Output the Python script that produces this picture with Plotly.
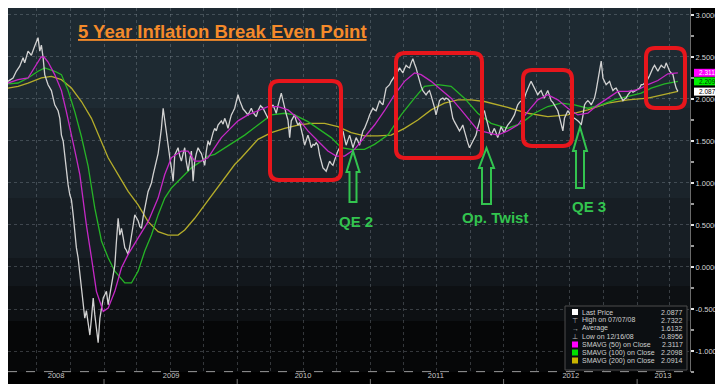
import datetime as _dt
import plotly.graph_objects as go

# ---------------- data ----------------
# time in decimal years
price_t = [2008.281, 2008.319, 2008.343, 2008.369, 2008.394, 2008.406, 2008.431, 2008.456, 2008.481, 2008.506,
           2008.519, 2008.531, 2008.544, 2008.556, 2008.581, 2008.606, 2008.631, 2008.656, 2008.669, 2008.681,
           2008.694, 2008.706, 2008.718, 2008.731, 2008.744, 2008.756, 2008.769, 2008.781, 2008.793, 2008.806,
           2008.819, 2008.831, 2008.844, 2008.856, 2008.868, 2008.881, 2008.894, 2008.906, 2008.919, 2008.931,
           2008.943, 2008.956, 2008.969, 2008.981, 2008.994, 2009.006, 2009.018, 2009.031, 2009.044, 2009.056,
           2009.069, 2009.081, 2009.093, 2009.106, 2009.119, 2009.131, 2009.144, 2009.156, 2009.168, 2009.181,
           2009.194, 2009.206, 2009.219, 2009.231, 2009.243, 2009.256, 2009.269, 2009.281, 2009.294, 2009.306,
           2009.318, 2009.331, 2009.344, 2009.356, 2009.369, 2009.381, 2009.393, 2009.406, 2009.419, 2009.431,
           2009.444, 2009.456, 2009.468, 2009.481, 2009.494, 2009.506, 2009.519, 2009.531, 2009.543, 2009.556,
           2009.569, 2009.581, 2009.594, 2009.606, 2009.618, 2009.631, 2009.644, 2009.656, 2009.669, 2009.681,
           2009.693, 2009.706, 2009.719, 2009.731, 2009.744, 2009.756, 2009.768, 2009.781, 2009.794, 2009.806,
           2009.819, 2009.831, 2009.843, 2009.856, 2009.869, 2009.881, 2009.894, 2009.906, 2009.918, 2009.931,
           2009.944, 2009.956, 2009.969, 2009.981, 2009.993, 2010.006, 2010.019, 2010.031, 2010.044, 2010.056,
           2010.068, 2010.081, 2010.094, 2010.106, 2010.119, 2010.131, 2010.143, 2010.156, 2010.175, 2010.194,
           2010.213, 2010.231, 2010.250, 2010.269, 2010.281, 2010.293, 2010.306, 2010.319, 2010.331, 2010.344,
           2010.356, 2010.368, 2010.381, 2010.394, 2010.406, 2010.419, 2010.431, 2010.443, 2010.456, 2010.469,
           2010.481, 2010.494, 2010.506, 2010.518, 2010.531, 2010.544, 2010.556, 2010.569, 2010.581, 2010.593,
           2010.606, 2010.619, 2010.631, 2010.644, 2010.656, 2010.668, 2010.681, 2010.694, 2010.706, 2010.719,
           2010.731, 2010.743, 2010.756, 2010.769, 2010.781, 2010.794, 2010.806, 2010.818, 2010.831, 2010.844,
           2010.856, 2010.869, 2010.881, 2010.893, 2010.906, 2010.919, 2010.931, 2010.944, 2010.956, 2010.968,
           2010.981, 2010.994, 2011.006, 2011.019, 2011.031, 2011.043, 2011.056, 2011.069, 2011.081, 2011.094,
           2011.106, 2011.118, 2011.131, 2011.144, 2011.156, 2011.169, 2011.181, 2011.193, 2011.206, 2011.219,
           2011.231, 2011.244, 2011.256, 2011.268, 2011.281, 2011.294, 2011.306, 2011.319, 2011.331, 2011.343,
           2011.356, 2011.369, 2011.381, 2011.394, 2011.406, 2011.418, 2011.431, 2011.444, 2011.456, 2011.469,
           2011.481, 2011.493, 2011.506, 2011.519, 2011.531, 2011.544, 2011.556, 2011.568, 2011.581, 2011.594,
           2011.606, 2011.619, 2011.631, 2011.643, 2011.656, 2011.669, 2011.681, 2011.694, 2011.706, 2011.718,
           2011.731, 2011.744, 2011.756, 2011.769, 2011.781, 2011.793, 2011.806, 2011.819, 2011.831, 2011.844,
           2011.856, 2011.868, 2011.881, 2011.894, 2011.906, 2011.919, 2011.931, 2011.943, 2011.956, 2011.969,
           2011.981, 2011.994, 2012.006, 2012.018, 2012.031, 2012.056, 2012.081, 2012.093, 2012.106, 2012.119,
           2012.131, 2012.144, 2012.156, 2012.168, 2012.181, 2012.194, 2012.206, 2012.219, 2012.231, 2012.243,
           2012.256, 2012.269, 2012.281, 2012.294, 2012.306, 2012.318, 2012.331, 2012.344, 2012.356, 2012.369,
           2012.381, 2012.393, 2012.406, 2012.419, 2012.431, 2012.444, 2012.456, 2012.468, 2012.481, 2012.494,
           2012.506, 2012.519, 2012.531, 2012.543, 2012.556, 2012.569, 2012.581, 2012.594, 2012.606, 2012.618,
           2012.631, 2012.644, 2012.656, 2012.669, 2012.681, 2012.693, 2012.706, 2012.719, 2012.731, 2012.744,
           2012.756, 2012.768, 2012.781, 2012.794, 2012.806, 2012.819, 2012.831, 2012.843, 2012.856, 2012.869,
           2012.881, 2012.894, 2012.906, 2012.918, 2012.931, 2012.944, 2012.956, 2012.969, 2012.981, 2012.993,
           2013.006, 2013.019, 2013.031, 2013.044, 2013.056, 2013.068, 2013.081, 2013.094, 2013.106, 2013.119,
           2013.131, 2013.143, 2013.156, 2013.169, 2013.181, 2013.194, 2013.206, 2013.218, 2013.231, 2013.244,
           2013.256, 2013.269, 2013.281, 2013.293, 2013.306]
price_v = [2.21, 2.25, 2.33, 2.39, 2.49, 2.43, 2.57, 2.52, 2.63, 2.73,
           2.57, 2.64, 2.49, 2.29, 2.17, 2.10, 1.93, 1.86, 1.77, 1.57,
           1.50, 1.33, 1.14, 0.98, 0.86, 0.80, 0.62, 0.40, 0.23, 0.11,
           -0.10, -0.29, -0.45, -0.61, -0.52, -0.69, -0.81, -0.61, -0.37, -0.57,
           -0.70, -0.90, -0.61, -0.50, -0.37, -0.33, -0.29, -0.45, -0.33, -0.21,
           -0.10, 0.02, 0.30, 0.58, 0.38, 0.46, 0.35, 0.23, 0.20, 0.15,
           0.25, 0.35, 0.50, 0.62, 0.58, 0.55, 0.48, 0.46, 0.60, 0.70,
           0.82, 0.90, 0.95, 1.00, 1.10, 1.18, 1.25, 1.35, 1.50, 1.65,
           1.89, 1.74, 1.57, 1.42, 1.30, 1.18, 1.02, 1.33, 1.38, 1.42,
           1.32, 1.26, 1.35, 1.42, 1.25, 1.14, 1.28, 1.38, 1.02, 1.26,
           1.35, 1.42, 1.38, 1.35, 1.28, 1.21, 1.38, 1.50, 1.45, 1.54,
           1.60, 1.65, 1.62, 1.69, 1.72, 1.74, 1.70, 1.77, 1.72, 1.65,
           1.74, 1.81, 1.85, 1.89, 1.97, 2.05, 1.98, 1.93, 1.88, 1.86,
           1.84, 1.81, 1.85, 1.89, 1.84, 1.81, 1.79, 1.86, 1.92, 1.89,
           1.82, 1.77, 1.88, 1.93, 1.88, 1.83, 1.92, 2.00, 2.07, 1.98,
           1.89, 1.82, 1.75, 1.54, 1.74, 1.78, 1.81, 1.74, 1.69, 1.72,
           1.65, 1.55, 1.45, 1.52, 1.57, 1.50, 1.42, 1.46, 1.45, 1.48,
           1.45, 1.33, 1.25, 1.18, 1.16, 1.14, 1.20, 1.26, 1.23, 1.21,
           1.27, 1.33, 1.38, 1.42, 1.52, 1.62, 1.53, 1.45, 1.51, 1.57,
           1.50, 1.42, 1.48, 1.54, 1.50, 1.45, 1.54, 1.62, 1.65, 1.69,
           1.75, 1.81, 1.85, 1.89, 1.87, 1.86, 1.92, 1.98, 1.95, 1.93,
           2.03, 2.13, 2.15, 2.17, 2.21, 2.25, 2.27, 2.29, 2.33, 2.37,
           2.34, 2.31, 2.36, 2.40, 2.38, 2.37, 2.43, 2.48, 2.42, 2.37,
           2.29, 2.21, 2.15, 2.10, 2.07, 2.05, 2.08, 2.10, 2.04, 1.98,
           1.90, 1.81, 1.90, 1.98, 2.00, 2.01, 1.99, 2.01, 2.00, 1.98,
           1.88, 1.77, 1.73, 1.69, 1.66, 1.62, 1.65, 1.69, 1.62, 1.54,
           1.48, 1.42, 1.46, 1.50, 1.54, 1.57, 1.66, 1.75, 1.80, 1.84,
           1.86, 1.78, 1.69, 1.62, 1.57, 1.61, 1.65, 1.60, 1.54, 1.60,
           1.67, 1.63, 1.60, 1.65, 1.69, 1.74, 1.81, 1.87, 1.93, 1.96,
           1.98, 1.99, 2.01, 2.07, 2.13, 2.17, 2.21, 2.17, 2.13, 2.09,
           2.05, 2.08, 2.10, 2.05, 2.01, 2.06, 2.10, 2.04, 1.98, 1.96,
           1.93, 1.90, 1.86, 1.78, 1.69, 1.62, 1.77, 1.82, 1.86, 1.83,
           1.80, 1.78, 1.77, 1.75, 1.74, 1.72, 1.69, 1.80, 1.93, 1.96,
           1.98, 1.96, 1.93, 1.97, 2.01, 2.10, 2.21, 2.33, 2.45, 2.25,
           2.21, 2.17, 2.19, 2.21, 2.15, 2.10, 2.12, 2.13, 2.09, 2.05,
           2.01, 1.98, 2.00, 2.01, 2.05, 2.07, 2.10, 2.08, 2.09, 2.10,
           2.12, 2.13, 2.17, 2.17, 2.19, 2.21, 2.24, 2.28, 2.33, 2.37,
           2.40, 2.36, 2.33, 2.37, 2.40, 2.38, 2.37, 2.43, 2.38, 2.33,
           2.31, 2.29, 2.20, 2.13, 2.09]

sma50_t = [2008.281, 2008.356, 2008.431, 2008.491, 2008.529, 2008.551, 2008.581, 2008.631, 2008.681, 2008.718,
           2008.756, 2008.793, 2008.819, 2008.868, 2008.906, 2008.943, 2008.994, 2009.031, 2009.081, 2009.131,
           2009.181, 2009.256, 2009.331, 2009.406, 2009.456, 2009.506, 2009.531, 2009.581, 2009.631, 2009.681,
           2009.731, 2009.781, 2009.831, 2009.881, 2009.931, 2010.006, 2010.081, 2010.156, 2010.231, 2010.306,
           2010.381, 2010.456, 2010.531, 2010.606, 2010.681, 2010.743, 2010.806, 2010.881, 2010.956, 2011.031,
           2011.106, 2011.181, 2011.256, 2011.331, 2011.381, 2011.456, 2011.531, 2011.606, 2011.681, 2011.756,
           2011.806, 2011.881, 2011.956, 2012.031, 2012.106, 2012.181, 2012.256, 2012.331, 2012.406, 2012.481,
           2012.556, 2012.631, 2012.706, 2012.781, 2012.856, 2012.931, 2013.006, 2013.081, 2013.156, 2013.231,
           2013.306]
sma50_v = [2.19, 2.23, 2.25, 2.40, 2.50, 2.50, 2.44, 2.29, 2.10, 1.85,
           1.55, 1.30, 1.10, 0.50, 0.11, -0.29, -0.53, -0.49, -0.29, -0.01,
           0.15, 0.35, 0.54, 0.82, 1.10, 1.30, 1.33, 1.38, 1.38, 1.26,
           1.26, 1.30, 1.42, 1.54, 1.62, 1.74, 1.81, 1.86, 1.91, 1.91,
           1.87, 1.77, 1.62, 1.50, 1.38, 1.32, 1.32, 1.40, 1.54, 1.69,
           1.86, 2.05, 2.21, 2.31, 2.29, 2.21, 2.11, 2.01, 1.87, 1.73,
           1.63, 1.60, 1.57, 1.62, 1.69, 1.85, 1.99, 2.05, 1.99, 1.89,
           1.81, 1.83, 1.93, 2.01, 2.09, 2.09, 2.11, 2.17, 2.22, 2.30,
           2.31]

sma100_t = [2008.281, 2008.356, 2008.431, 2008.506, 2008.556, 2008.631, 2008.681, 2008.731, 2008.781, 2008.831,
            2008.881, 2008.931, 2008.981, 2009.031, 2009.081, 2009.156, 2009.206, 2009.256, 2009.306, 2009.356,
            2009.406, 2009.456, 2009.506, 2009.581, 2009.656, 2009.731, 2009.781, 2009.831, 2009.906, 2009.981,
            2010.056, 2010.156, 2010.256, 2010.356, 2010.431, 2010.531, 2010.631, 2010.706, 2010.781, 2010.856,
            2010.956, 2011.031, 2011.131, 2011.231, 2011.331, 2011.406, 2011.506, 2011.606, 2011.706, 2011.806,
            2011.906, 2012.031, 2012.131, 2012.231, 2012.331, 2012.431, 2012.531, 2012.631, 2012.731, 2012.831,
            2012.931, 2013.031, 2013.106, 2013.206, 2013.306]
sma100_v = [2.18, 2.19, 2.25, 2.33, 2.37, 2.33, 2.29, 2.10, 1.85, 1.55,
            1.20, 0.70, 0.31, 0.11, -0.05, -0.19, -0.19, -0.05, 0.19, 0.38,
            0.62, 0.82, 0.94, 1.06, 1.18, 1.26, 1.32, 1.34, 1.42, 1.50,
            1.57, 1.69, 1.81, 1.83, 1.81, 1.73, 1.62, 1.54, 1.42, 1.40,
            1.40, 1.46, 1.57, 1.81, 2.01, 2.15, 2.17, 2.15, 2.01, 1.83,
            1.71, 1.65, 1.71, 1.83, 1.91, 1.95, 1.93, 1.89, 1.93, 1.99,
            2.03, 2.07, 2.13, 2.18, 2.21]

sma200_t = [2008.281, 2008.356, 2008.431, 2008.531, 2008.606, 2008.681, 2008.756, 2008.831, 2008.906, 2008.981,
            2009.031, 2009.106, 2009.181, 2009.256, 2009.331, 2009.406, 2009.481, 2009.556, 2009.606, 2009.681,
            2009.756, 2009.831, 2009.906, 2009.981, 2010.031, 2010.156, 2010.256, 2010.356, 2010.456, 2010.556,
            2010.656, 2010.756, 2010.856, 2010.956, 2011.056, 2011.156, 2011.256, 2011.356, 2011.456, 2011.556,
            2011.656, 2011.756, 2011.856, 2011.956, 2012.031, 2012.181, 2012.331, 2012.481, 2012.631, 2012.781,
            2012.931, 2013.081, 2013.194, 2013.306]
sma200_v = [2.13, 2.15, 2.19, 2.25, 2.27, 2.23, 2.13, 1.97, 1.77, 1.50,
            1.30, 1.10, 0.90, 0.74, 0.54, 0.42, 0.38, 0.38, 0.44, 0.58,
            0.74, 0.90, 1.06, 1.22, 1.30, 1.52, 1.60, 1.65, 1.69, 1.71,
            1.71, 1.67, 1.60, 1.56, 1.56, 1.57, 1.65, 1.75, 1.87, 1.95,
            1.99, 1.99, 1.97, 1.93, 1.90, 1.83, 1.79, 1.81, 1.87, 1.95,
            1.99, 2.01, 2.05, 2.09]

year_labels = ["2008", "2009", "2010", "2011", "2012", "2013"]
year_label_pos = [2008.641, 2009.504, 2010.494, 2011.491, 2012.503, 2013.194]
year_bounds = [2009, 2010, 2011, 2012, 2013]
y_ticks = [-1.0, -0.5, 0.0, 0.5, 1.0, 1.5, 2.0, 2.5, 3.0]

legend_labels = ["Last Price", "High on 07/07/08", "Average", "Low on 12/16/08",
                 "SMAVG (50) on Close", "SMAVG (100) on Close", "SMAVG (200) on Close"]
legend_values = ["2.0877", "2.7322", "1.6132", "-0.8956", "2.3117", "2.2098", "2.0914"]
last_tags = [("2.3117", 2.3117), ("2.2098", 2.2098), ("2.0877", 2.0877)]

title_text = "5 Year Inflation Break Even Point"
events = ["QE 2", "Op. Twist", "QE 3"]

# ---------------- styling ----------------
C_PRICE = "#d2d2d2"
C_50 = "#c628c6"
C_100 = "#26b526"
C_200 = "#b5ad2a"
C_RED = "#e8161c"
C_GRN = "#33c44f"
SMALL = "Liberation Sans, Arial, sans-serif"
BOLD = "Liberation Sans, Arial, sans-serif"

PW, PH = 682.0, 364.0


def to_dt(y):
    yr = int(y)
    a = _dt.datetime(yr, 1, 1)
    b = _dt.datetime(yr + 1, 1, 1)
    return a + (b - a) * (y - yr)


def X(p):
    return p / PW


def Y(p):
    return 1 - p / PH


def rrect(x0, y0, x1, y1, r):
    pts = [("M", [(x0 + r, y0)]), ("L", [(x1 - r, y0)]), ("Q", [(x1, y0), (x1, y0 + r)]),
           ("L", [(x1, y1 - r)]), ("Q", [(x1, y1), (x1 - r, y1)]), ("L", [(x0 + r, y1)]),
           ("Q", [(x0, y1), (x0, y1 - r)]), ("L", [(x0, y0 + r)]), ("Q", [(x0, y0), (x0 + r, y0)])]
    s = ""
    for cmd, pp in pts:
        s += cmd + " " + " ".join("%.5f,%.5f" % (X(a), Y(b)) for a, b in pp) + " "
    return s + "Z"


def arrow(cx, tip, hw, hb, sw, bot):
    pp = [(cx, tip), (cx + hw, hb), (cx + sw, hb), (cx + sw, bot), (cx - sw, bot), (cx - sw, hb), (cx - hw, hb)]
    return "M " + " L ".join("%.5f,%.5f" % (X(a), Y(b)) for a, b in pp) + " Z"


fig = go.Figure()
fig.add_trace(go.Scatter(x=[to_dt(t) for t in sma200_t], y=sma200_v, mode="lines",
                         line=dict(color=C_200, width=1.3), hoverinfo="skip"))
fig.add_trace(go.Scatter(x=[to_dt(t) for t in sma100_t], y=sma100_v, mode="lines",
                         line=dict(color=C_100, width=1.3), hoverinfo="skip"))
fig.add_trace(go.Scatter(x=[to_dt(t) for t in price_t], y=price_v, mode="lines",
                         line=dict(color=C_PRICE, width=1.3), hoverinfo="skip"))
fig.add_trace(go.Scatter(x=[to_dt(t) for t in sma50_t], y=sma50_v, mode="lines",
                         line=dict(color=C_50, width=1.3), hoverinfo="skip"))

shapes = []
# background bands
bands = [(0, 100, "#1e2a32"), (100, 190, "#1b242b"), (190, 250, "#171e24"),
         (250, 278, "#12171c"), (278, 313, "#0d1013"), (313, 364, "#060708")]
for a, b, c in bands:
    shapes.append(dict(type="rect", xref="paper", yref="paper", x0=0, x1=1, y0=Y(b), y1=Y(a),
                       fillcolor=c, line=dict(width=0), layer="below"))
# dashed bottom axis line
shapes.append(dict(type="line", xref="paper", yref="paper", x0=0, x1=1, y0=0.001, y1=0.001,
                   line=dict(color="#9a9a9a", width=1, dash="dash")))
# year separators
for yb in year_bounds:
    shapes.append(dict(type="line", xref="x", yref="paper", x0=to_dt(yb), x1=to_dt(yb),
                       y0=Y(371), y1=Y(382), line=dict(color="#777777", width=1)))
# red highlight boxes
for (x0, y0, x1, y1) in [(262, 73, 333, 172), (388, 45, 474, 150), (515, 62, 564, 138), (638, 40, 677, 100)]:
    shapes.append(dict(type="path", xref="paper", yref="paper", path=rrect(x0, y0, x1, y1, 9),
                       line=dict(color=C_RED, width=4)))
# green arrows
for (cx, tip, hw, hb, sw, bot) in [(345, 143, 6.5, 164, 3.5, 194), (478.5, 140, 7.5, 160, 4.5, 196),
                                    (572, 119, 7, 143, 4, 180)]:
    shapes.append(dict(type="path", xref="paper", yref="paper", path=arrow(cx, tip, hw, hb, sw, bot),
                       line=dict(color=C_GRN, width=2)))
# legend box
shapes.append(dict(type="rect", xref="paper", yref="paper", x0=X(557), x1=X(679), y0=Y(362), y1=Y(298),
                   fillcolor="#0c0f12", line=dict(color="#4d4d4d", width=1)))
legend_rows = [304, 312, 320, 328, 336.5, 344.5, 352.5]
square_cols = {0: "#ffffff", 4: "#ff00ff", 5: "#00e000", 6: "#c8b400"}
for i, c in square_cols.items():
    r = legend_rows[i]
    shapes.append(dict(type="rect", xref="paper", yref="paper", x0=X(564), x1=X(570), y0=Y(r + 3), y1=Y(r - 3),
                       fillcolor=c, line=dict(width=0)))
# last-value tags at the right edge (rectangles), text added as annotations below
tag_styles = [("#ff00ff", "#ffffff"), ("#00f000", "#003300"), ("#ffffff", "#000000")]
for (txt, v), (bg, fg) in zip(last_tags, tag_styles):
    shapes.append(dict(type="rect", xref="paper", yref="y", x0=X(686), x1=X(716),
                       y0=v - 4.0 / 84, y1=v + 4.0 / 84, fillcolor=bg, line=dict(width=0)))

annotations = []
annotations.append(dict(xref="paper", yref="paper", x=X(214), y=Y(24), text="<u><b>" + title_text + "</b></u>",
                        showarrow=False, font=dict(family=BOLD, size=18.5, color="#f58a2a"),
                        xanchor="center", yanchor="middle"))
for txt, (cx, cy) in zip(events, [(348, 213), (487, 210), (581, 199)]):
    annotations.append(dict(xref="paper", yref="paper", x=X(cx), y=Y(cy), text="<b>" + txt + "</b>",
                            showarrow=False, font=dict(family=BOLD, size=15, color=C_GRN),
                            xanchor="center", yanchor="middle"))
symbols = ["", "⊤", "→", "⊥", "", "", ""]
for i, (lab, val) in enumerate(zip(legend_labels, legend_values)):
    r = legend_rows[i]
    annotations.append(dict(xref="paper", yref="paper", x=X(572), y=Y(r), text=lab, showarrow=False,
                            font=dict(family=SMALL, size=7, color="#cfcfcf"), xanchor="left", yanchor="middle"))
    annotations.append(dict(xref="paper", yref="paper", x=X(677), y=Y(r), text=val, showarrow=False,
                            font=dict(family=SMALL, size=7, color="#cfcfcf"), xanchor="right", yanchor="middle"))
    if symbols[i]:
        annotations.append(dict(xref="paper", yref="paper", x=X(567), y=Y(r), text=symbols[i], showarrow=False,
                                font=dict(family=SMALL, size=7, color="#bbbbbb"), xanchor="center",
                                yanchor="middle"))
for (txt, v), (bg, fg) in zip(last_tags, tag_styles):
    annotations.append(dict(xref="paper", yref="y", x=X(701), y=v, text=txt, showarrow=False,
                            font=dict(family=SMALL, size=6.5, color=fg), borderpad=0,
                            xanchor="center", yanchor="middle"))

fig.update_layout(
    width=723, height=384,
    margin=dict(l=0, r=41, t=0, b=20),
    paper_bgcolor="#000000", plot_bgcolor="#1a232a",
    showlegend=False,
    shapes=shapes, annotations=annotations,
    xaxis=dict(type="date", range=[to_dt(2008.281), to_dt(2013.397)],
               tickmode="array", tickvals=[to_dt(v) for v in year_label_pos], ticktext=year_labels,
               ticks="", showgrid=False, zeroline=False, showline=False,
               tickfont=dict(family=SMALL, size=7.5, color="#c8c8c8"), ticklabelstandoff=-3,
               minor=dict(dtick="M3", tick0="2008-01-01", showgrid=True, gridcolor="rgba(160,170,180,0.30)",
                          griddash="dot", gridwidth=1, ticks="")),
    yaxis=dict(side="right", range=[-1.25, 3.083], tickmode="array", tickvals=y_ticks,
               ticktext=["%.4f" % v for v in y_ticks], ticks="outside", ticklen=3, tickwidth=2,
               tickcolor="#e6e6e6", showgrid=True, gridcolor="rgba(160,170,180,0.30)", griddash="dot",
               zeroline=False, showline=True, linecolor="#6a6a6a", linewidth=1,
               tickfont=dict(family=SMALL, size=7.5, color="#d4d4d4"), ticklabelstandoff=0,
               minor=dict(dtick=0.25, tick0=0, ticks="outside", ticklen=3, tickcolor="#9a9a9a", showgrid=False)),
)

fig.write_html("out.html")
